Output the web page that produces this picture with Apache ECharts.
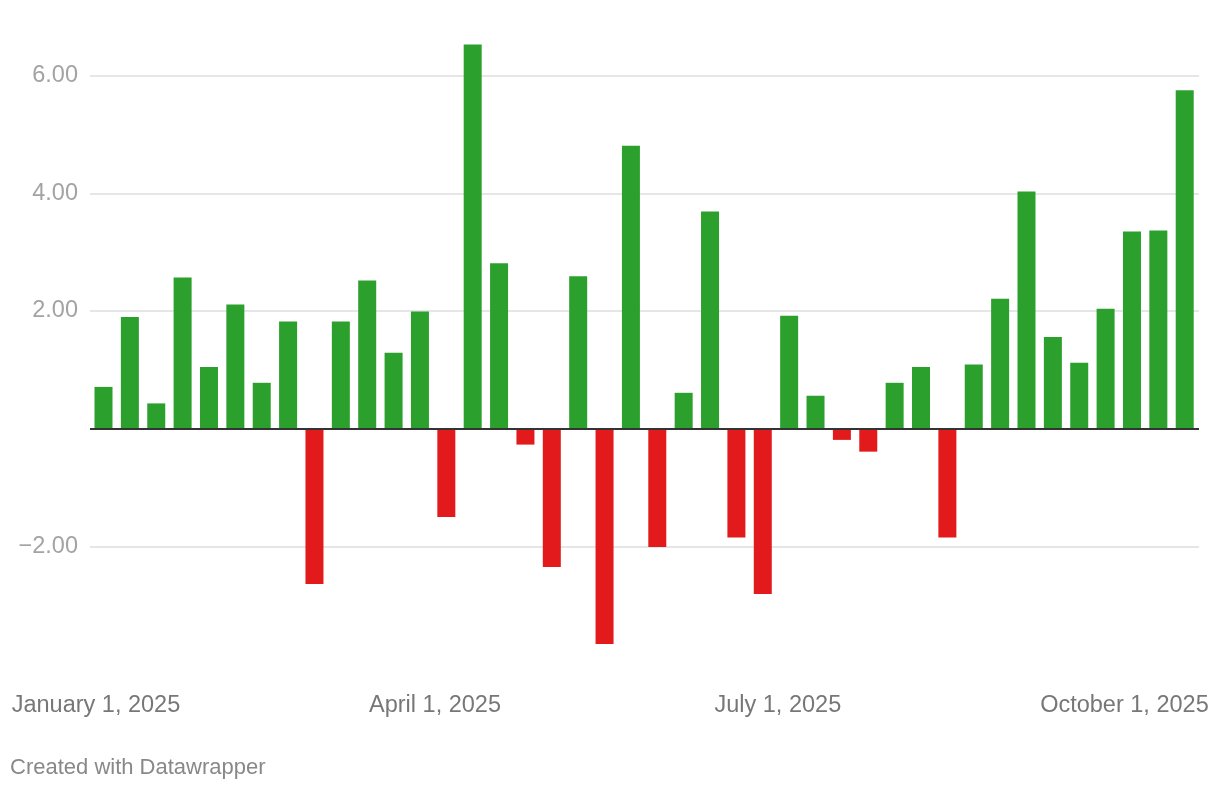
<!DOCTYPE html>
<html>
<head>
<meta charset="utf-8">
<script src="https://cdn.jsdelivr.net/npm/echarts@6/dist/echarts.min.js"></script>
<style>
html,body{margin:0;padding:0;background:#fff;}
#chart{width:1220px;height:792px;}
</style>
</head>
<body>
<div id="chart"></div>
<script>
const weekDates = [
  '2025-01-03','2025-01-10','2025-01-17','2025-01-24','2025-01-31',
  '2025-02-07','2025-02-14','2025-02-21','2025-02-28',
  '2025-03-07','2025-03-14','2025-03-21','2025-03-28',
  '2025-04-04','2025-04-11','2025-04-18','2025-04-25',
  '2025-05-02','2025-05-09','2025-05-16','2025-05-23','2025-05-30',
  '2025-06-06','2025-06-13','2025-06-20','2025-06-27',
  '2025-07-04','2025-07-11','2025-07-18','2025-07-25',
  '2025-08-01','2025-08-08','2025-08-15','2025-08-22','2025-08-29',
  '2025-09-05','2025-09-12','2025-09-19','2025-09-26',
  '2025-10-03','2025-10-10','2025-10-17'
];
const weeklyValues = [
  0.71, 1.90, 0.43, 2.57, 1.05, 2.11, 0.78, 1.82, -2.64,
  1.82, 2.52, 1.29, 1.99, -1.50, 6.53, 2.81, -0.27,
  -2.35, 2.59, -3.66, 4.81, -2.01, 0.61, 3.69, -1.85,
  -2.81, 1.92, 0.56, -0.19, -0.39, 0.78, 1.05, -1.85,
  1.09, 2.21, 4.03, 1.56, 1.12, 2.04, 3.35, 3.37, 5.75
];
const xTickDates = ['2025-01-01','2025-04-01','2025-07-01','2025-10-01'];
const xTickLabels = ['January 1, 2025','April 1, 2025','July 1, 2025','October 1, 2025'];
const yTickValues = [-2, 2, 4, 6];

const toTs = s => Date.parse(s + 'T00:00:00Z');
const xTickTs = xTickDates.map(toTs);
const seriesData = weekDates.map((d, i) => [toTs(d), weeklyValues[i]]);

const chart = echarts.init(document.getElementById('chart'), null, {renderer: 'canvas'});
chart.setOption({
  animation: false,
  backgroundColor: '#ffffff',
  grid: {left: 90, right: 21, top: 16.75, bottom: 127.9, containLabel: false},
  xAxis: {
    type: 'value',
    min: Date.UTC(2024, 11, 30, 10),
    max: Date.UTC(2025, 9, 20, 19),
    scale: true,
    axisLine: {show: false, onZero: false},
    axisTick: {show: false, customValues: xTickTs},
    splitLine: {show: false},
    axisLabel: {
      customValues: xTickTs,
      margin: 29,
      color: '#777777',
      fontSize: 23.5,
      fontFamily: 'Liberation Sans, Arial, sans-serif',
      formatter: function (v) {
        const idx = xTickTs.indexOf(v);
        return idx >= 0 ? xTickLabels[idx] : '';
      }
    }
  },
  yAxis: {
    type: 'value',
    min: -4,
    max: 7,
    axisLine: {show: false},
    axisTick: {show: false, customValues: yTickValues},
    splitLine: {show: true, lineStyle: {color: '#e6e6e6', width: 2}},
    axisLabel: {
      customValues: yTickValues,
      margin: 12,
      color: '#a3a3a3',
      fontSize: 23.5,
      fontFamily: 'Liberation Sans, Arial, sans-serif',
      formatter: function (v) {
        const s = Math.abs(v).toFixed(2);
        return v < 0 ? '\u2212' + s : s;
      }
    }
  },
  series: [{
    type: 'bar',
    data: seriesData,
    barWidth: 18,
    itemStyle: {
      color: function (p) { return p.value[1] < 0 ? '#e31a1c' : '#2ca02c'; }
    },
    markLine: {
      silent: true,
      symbol: ['none', 'none'],
      label: {show: false},
      lineStyle: {color: '#333333', width: 2, type: 'solid'},
      data: [{yAxis: 0}]
    }
  }],
  graphic: [{
    type: 'text',
    left: 10,
    top: 757,
    style: {
      text: 'Created with Datawrapper',
      fill: '#888888',
      fontSize: 22,
      fontFamily: 'Liberation Sans, Arial, sans-serif'
    }
  }]
});
</script>
</body>
</html>
